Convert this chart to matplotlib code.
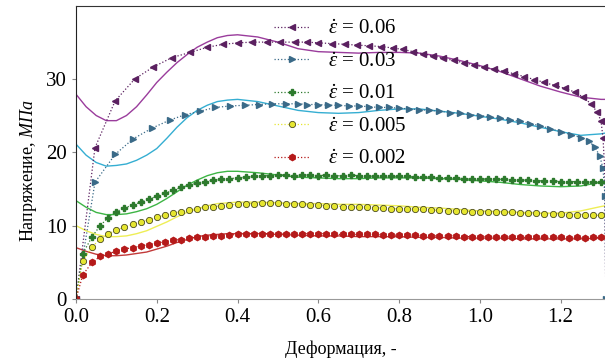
import matplotlib
matplotlib.use('Agg')
import matplotlib.pyplot as plt

""" Settings """
plt.rcParams['font.family'] = ['Liberation Serif', 'DejaVu Serif']
plt.rcParams['mathtext.fontset'] = 'custom'
plt.rcParams['mathtext.rm'] = 'Liberation Serif'
plt.rcParams['mathtext.it'] = 'Liberation Serif:italic'

""" Experimental data: fast rates """
strain_006 = [0, 0.047, 0.097, 0.146, 0.191, 0.238, 0.283, 0.325, 0.364, 0.402, 0.437,
              0.474, 0.506, 0.543, 0.573, 0.60, 0.635, 0.665, 0.695, 0.725, 0.755,
              0.785, 0.81, 0.835, 0.86, 0.885, 0.91, 0.935, 0.96, 0.985, 1.01, 1.035,
              1.06, 1.085, 1.11, 1.135, 1.16, 1.185, 1.21, 1.235, 1.256, 1.275, 1.29,
              1.30, 1.305, 1.309, 1.312]
stress_006 = [0, 20.6, 27.0, 30.0, 31.6, 32.9, 33.6, 34.3, 34.7, 34.9, 35.0,
              35.0, 35.0, 35.0, 35.0, 34.9, 34.8, 34.7, 34.6, 34.5, 34.4,
              34.2, 34.0, 33.7, 33.4, 33.1, 32.8, 32.5, 32.2, 31.9, 31.6, 31.3,
              31.0, 30.7, 30.3, 29.9, 29.5, 29.1, 28.7, 28.2, 27.5, 26.6, 25.5,
              24.3, 22.0, 18.0, 0]

strain_003 = [0, 0.047, 0.097, 0.141, 0.189, 0.233, 0.270, 0.308, 0.345, 0.382, 0.419,
              0.452, 0.486, 0.519, 0.551, 0.573, 0.60, 0.625, 0.65, 0.675, 0.70,
              0.725, 0.75, 0.775, 0.80, 0.825, 0.85, 0.875, 0.90, 0.925, 0.95, 0.975,
              1.00, 1.025, 1.05, 1.075, 1.10, 1.125, 1.15, 1.175, 1.20, 1.225, 1.25,
              1.27, 1.285, 1.297, 1.305, 1.31, 1.312]
stress_003 = [0, 15.9, 19.7, 21.8, 23.3, 24.4, 25.1, 25.6, 26.1, 26.3, 26.4,
              26.5, 26.6, 26.6, 26.6, 26.5, 26.5, 26.4, 26.4, 26.3, 26.3,
              26.2, 26.1, 26.1, 26.0, 25.9, 25.8, 25.7, 25.6, 25.4, 25.3, 25.1,
              25.0, 24.8, 24.6, 24.4, 24.2, 23.9, 23.6, 23.2, 22.8, 22.4, 22.0,
              21.5, 20.7, 19.5, 17.8, 14.0, 0]

""" Experimental data: slow rates (shared strain points) """
strain_slow = [0, 0.017, 0.04,
               0.06, 0.08, 0.10, 0.12, 0.14, 0.16, 0.18, 0.20, 0.22, 0.24, 0.26, 0.28,
               0.30, 0.32, 0.34, 0.36, 0.38, 0.40, 0.42, 0.44, 0.46, 0.48, 0.50,
               0.52, 0.54, 0.56, 0.58, 0.60, 0.62, 0.64, 0.66, 0.68, 0.70, 0.72, 0.74,
               0.76, 0.78, 0.80,
               0.82, 0.84, 0.86, 0.88, 0.90, 0.92, 0.94, 0.96, 0.98, 1.00, 1.02, 1.04,
               1.06, 1.08, 1.10, 1.12, 1.14, 1.16, 1.18, 1.20, 1.22, 1.24, 1.26, 1.28,
               1.30]
stress_001 = [0, 6.2, 8.5,
              10.0, 11.1, 11.9, 12.4, 12.8, 13.2, 13.6, 14.0, 14.4, 14.8, 15.2, 15.5,
              15.8, 16.0, 16.2, 16.3, 16.4, 16.5, 16.6, 16.7, 16.8, 16.8, 16.9,
              16.9, 16.8, 16.9, 16.9, 16.8, 16.9, 16.8, 16.8, 16.9, 16.8, 16.8, 16.7,
              16.8, 16.7, 16.7,
              16.7, 16.6, 16.6, 16.6, 16.5, 16.5, 16.5, 16.4, 16.4, 16.4, 16.3, 16.3,
              16.3, 16.2, 16.2, 16.2, 16.1, 16.1, 16.1, 16.0, 16.0, 16.0, 16.0, 15.9,
              15.9]
stress_0005 = [0, 5.2, 7.1,
               8.2, 8.9, 9.4, 9.8, 10.2, 10.5, 10.8, 11.2, 11.4, 11.7, 11.9, 12.1,
               12.3, 12.5, 12.6, 12.7, 12.8, 12.9, 13.0, 13.0, 13.1, 13.1, 13.1,
               13.0, 12.9, 12.9, 12.8, 12.8, 12.7, 12.7, 12.6, 12.6, 12.5, 12.5, 12.4,
               12.4, 12.3, 12.3,
               12.3, 12.2, 12.2, 12.1, 12.1, 12.0, 12.0, 12.0, 11.9, 11.9, 11.9, 11.8,
               11.8, 11.8, 11.7, 11.7, 11.7, 11.6, 11.6, 11.6, 11.5, 11.5, 11.5, 11.4,
               11.4]
stress_0002 = [0, 3.3, 5.0,
               5.8, 6.2, 6.5, 6.8, 7.0, 7.2, 7.4, 7.6, 7.8, 8.0, 8.1, 8.3,
               8.4, 8.5, 8.6, 8.6, 8.7, 8.8, 8.8, 8.9, 8.9, 8.9, 8.9,
               8.9, 8.9, 8.9, 8.9, 8.9, 8.9, 8.8, 8.8, 8.8, 8.8, 8.8, 8.8,
               8.7, 8.7, 8.7,
               8.7, 8.7, 8.6, 8.6, 8.6, 8.6, 8.6, 8.5, 8.5, 8.5, 8.5, 8.5,
               8.5, 8.4, 8.4, 8.4, 8.4, 8.4, 8.4, 8.4, 8.3, 8.4, 8.3, 8.4,
               8.4]

""" Model curves """
strain_fit = [0, 0.025, 0.05, 0.075, 0.10, 0.125, 0.15, 0.175, 0.20, 0.225, 0.25,
              0.275, 0.30, 0.325, 0.35, 0.375, 0.40, 0.45, 0.50, 0.55,
              0.60, 0.65, 0.70, 0.75, 0.80, 0.85, 0.90, 0.95, 1.00, 1.05, 1.10, 1.15,
              1.20, 1.25, 1.30, 1.31]
fit_006 = [27.9, 26.2, 25.0, 24.3, 24.3, 25.0, 26.2, 27.8, 29.5, 30.9, 32.2,
           33.3, 34.3, 35.0, 35.6, 35.9, 36.0, 35.7, 35.0, 34.1,
           33.7, 33.6, 33.5, 33.6, 33.6, 33.5, 33.1, 32.5, 31.8, 31.0, 30.0, 29.0,
           28.2, 27.5, 27.2, 27.2]
fit_003 = [21.1, 19.6, 18.6, 18.1, 18.2, 18.4, 18.9, 19.6, 20.5, 21.9, 23.4,
           24.7, 25.7, 26.4, 26.9, 27.1, 27.2, 26.9, 26.3, 25.7,
           25.4, 25.3, 25.4, 25.7, 25.9, 25.9, 25.6, 25.3, 24.9, 24.5, 24.0, 23.4,
           22.8, 22.3, 22.5, 22.6]
fit_001 = [13.4, 12.5, 11.8, 11.5, 11.5, 11.6, 11.9, 12.3, 12.9, 13.7, 14.6,
           15.5, 16.2, 16.8, 17.2, 17.4, 17.4, 17.2, 16.9, 16.6,
           16.5, 16.4, 16.4, 16.5, 16.5, 16.5, 16.4, 16.3, 16.1, 15.9, 15.6, 15.4,
           15.3, 15.4, 15.9, 16.0]
fit_0005 = [10.0, 9.3, 8.8, 8.5, 8.5, 8.6, 8.9, 9.3, 9.9, 10.5, 11.2,
            11.8, 12.3, 12.7, 13.0, 13.1, 13.2, 13.2, 13.1, 13.0,
            13.0, 12.9, 12.9, 12.8, 12.7, 12.5, 12.4, 12.2, 12.0, 11.9, 11.8, 11.7,
            11.7, 12.0, 12.6, 12.7]
fit_0002 = [7.0, 6.5, 6.1, 5.9, 5.9, 6.0, 6.2, 6.4, 6.8, 7.2, 7.7,
            8.1, 8.5, 8.7, 8.8, 8.9, 8.9, 8.9, 8.8, 8.7,
            8.6, 8.6, 8.5, 8.5, 8.5, 8.4, 8.4, 8.3, 8.3, 8.3, 8.2, 8.2,
            8.2, 8.2, 8.3, 8.3]

labels = ['0.06', '0.03', '0.01', '0.005', '0.002']


""" Plot """
fig = plt.figure(figsize=(6.05, 3.62), dpi=100)
ax = fig.add_axes([0.1256, 0.174, 0.8744, 0.809])

ax.plot(strain_fit, fit_006, '-', color='#9a3c9c', lw=1.0)
ax.plot(strain_fit, fit_003, '-', color='#35aed2', lw=1.0)
ax.plot(strain_fit, fit_001, '-', color='#3db545', lw=1.0)
ax.plot(strain_fit, fit_0005, '-', color='#eeee55', lw=1.0)
ax.plot(strain_fit, fit_0002, '-', color='#c23a3a', lw=1.0)

ax.plot(strain_006, stress_006, ':', color='#5b2060', marker='<', ms=4.5, lw=0.9,
        label=r'$\dot{\varepsilon}$ = ' + labels[0])
ax.plot(strain_003, stress_003, ':', color='#3a6a88', marker='>', ms=4.5, lw=0.9,
        label=r'$\dot{\varepsilon}$ = ' + labels[1])
ax.plot(strain_slow, stress_001, ':', color='#2d7a2d', marker='P', ms=4.5, lw=0.9,
        label=r'$\dot{\varepsilon}$ = ' + labels[2])
ax.plot(strain_slow, stress_0005, ':', color='#e6e630', marker='o', ms=4.5, lw=0.9,
        mfc='#e6e630', mec='#4a4a20', mew=0.6,
        label=r'$\dot{\varepsilon}$ = ' + labels[3])
ax.plot(strain_slow, stress_0002, ':', color='#b51a1a', marker='h', ms=4.5, lw=0.9,
        label=r'$\dot{\varepsilon}$ = ' + labels[4])

ax.set_xlim(0, 1.31)
ax.set_ylim(0, 39.9)
ax.set_xticks([0.0, 0.2, 0.4, 0.6, 0.8, 1.0, 1.2])
ax.set_yticks([0, 10, 20, 30])
ax.tick_params(labelsize=15, length=3, color='#888888')

ax.spines['right'].set_visible(False)
ax.spines['bottom'].set_color('#999999')
ax.spines['left'].set_color('#222222')
ax.spines['top'].set_color('#333333')

ax.set_xlabel('Деформация, -', fontsize=13, labelpad=10)
ax.set_ylabel(r'Напряжение, $\mathit{МПа}$', fontsize=13)
ax.yaxis.set_label_coords(-0.07, 0.44)

ax.legend(loc='upper center', bbox_to_anchor=(0.5, 0.99), frameon=False,
          fontsize=15, numpoints=1, handlelength=1.7, handletextpad=0.9,
          labelspacing=0.62, borderaxespad=0.1)

fig.savefig('out.png', dpi=100)
